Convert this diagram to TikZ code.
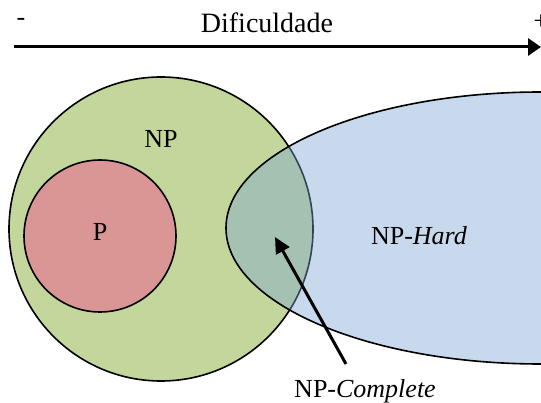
\documentclass[tikz,border=0pt]{standalone}
\usepackage{fontspec}
\setmainfont{Liberation Serif}
\usetikzlibrary{arrows.meta}
\definecolor{npgreen}{RGB}{195,214,155}
\definecolor{pred}{RGB}{217,150,148}
\definecolor{hardblue}{RGB}{125,164,212}
\begin{document}
\begin{tikzpicture}[x=1pt,y=-1pt,
  setline/.style={draw=black,line width=1.6pt},
  label/.style={inner sep=0pt,font=\fontsize{26}{30}\selectfont},
  pointer/.style={line width=3pt,-{Triangle[length=16pt,width=15pt]}}]
\useasboundingbox (0,0) rectangle (541,403);
\clip (0,0) rectangle (541,403);
% difficulty axis
\coordinate (axstart) at (14,47);
\coordinate (axend) at (541,47);
\draw[pointer,-{Triangle[length=13pt,width=17pt]}] (axstart) -- (axend);
\node[label] (minus) at (21,22) {-};
\node[label,font=\fontsize{28}{32}\selectfont,anchor=base] (dif) at (267,33) {Dificuldade};
\node[label] (plus) at (541,22) {+};
% complexity classes
\path[setline,fill=npgreen] (161,229) circle[radius=152];
\path[setline,fill=pred] (100,236) circle[radius=76];
\path[setline,fill=hardblue,fill opacity=0.42] (541,228) ellipse[x radius=315,y radius=136];
\node[label,anchor=base] (np) at (161,148) {NP};
\node[label,anchor=base] (p) at (100,241) {P};
\node[label,anchor=base] (nph) at (419,245) {NP-\textit{Hard}};
\node[label,anchor=base] (npc) at (365,397) {NP-\textit{Complete}};
\coordinate (npctail) at (346,364);
\coordinate (npctip) at (275,237);
\draw[pointer] (npctail) -- (npctip);
\end{tikzpicture}
\end{document}
